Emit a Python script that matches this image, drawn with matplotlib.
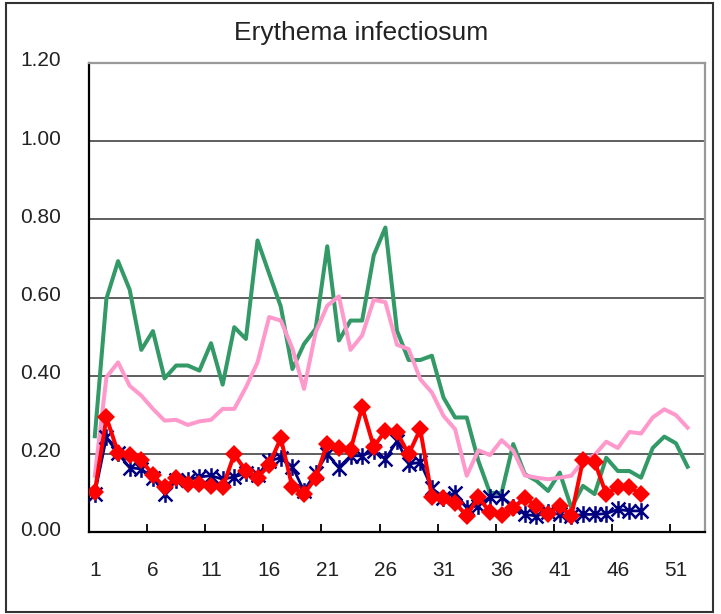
import matplotlib
matplotlib.use("Agg")
import matplotlib.pyplot as plt
import matplotlib.transforms as mtransforms
from matplotlib.path import Path
from matplotlib.patches import Rectangle

plt.rcParams['font.family'] = ['Liberation Sans', 'DejaVu Sans']

title = "Erythema infectiosum"
n_weeks = 53
tick_labels = ["1", "6", "11", "16", "21", "26", "31", "36", "41", "46", "51"]
y_ticks = [0.0, 0.2, 0.4, 0.6, 0.8, 1.0, 1.2]

green_vals = [0.245, 0.597, 0.693, 0.620, 0.466, 0.514, 0.393, 0.426, 0.426, 0.413,
              0.483, 0.377, 0.524, 0.494, 0.746, 0.661, 0.577, 0.417, 0.481, 0.520,
              0.731, 0.490, 0.541, 0.541, 0.708, 0.779, 0.515, 0.440, 0.440, 0.451,
              0.344, 0.293, 0.293, 0.182, 0.100, 0.100, 0.225, 0.148, 0.131, 0.105,
              0.152, 0.062, 0.118, 0.097, 0.190, 0.156, 0.156, 0.139, 0.215, 0.244,
              0.227, 0.167]
pink_vals = [0.144, 0.396, 0.434, 0.374, 0.349, 0.315, 0.285, 0.287, 0.274, 0.283,
             0.287, 0.315, 0.315, 0.370, 0.434, 0.550, 0.541, 0.470, 0.366, 0.511,
             0.579, 0.603, 0.466, 0.503, 0.594, 0.588, 0.479, 0.468, 0.391, 0.357,
             0.297, 0.263, 0.144, 0.209, 0.197, 0.235, 0.208, 0.145, 0.139, 0.135,
             0.139, 0.144, 0.182, 0.197, 0.231, 0.215, 0.256, 0.252, 0.293, 0.314,
             0.299, 0.267]
red_vals = [0.103, 0.293, 0.203, 0.197, 0.184, 0.146, 0.114, 0.138, 0.124, 0.124,
            0.118, 0.114, 0.199, 0.156, 0.139, 0.172, 0.240, 0.114, 0.098, 0.138,
            0.226, 0.215, 0.209, 0.320, 0.218, 0.259, 0.255, 0.199, 0.263, 0.090,
            0.088, 0.075, 0.041, 0.090, 0.050, 0.044, 0.062, 0.086, 0.067, 0.045,
            0.067, 0.041, 0.184, 0.180, 0.097, 0.115, 0.114, 0.098]
navy_vals = [0.098, 0.242, 0.201, 0.165, 0.161, 0.139, 0.097, 0.133, 0.133, 0.141,
             0.144, 0.135, 0.141, 0.150, 0.145, 0.182, 0.190, 0.167, 0.105, 0.152,
             0.199, 0.165, 0.195, 0.195, 0.208, 0.186, 0.233, 0.174, 0.178, 0.112,
             0.088, 0.100, 0.062, 0.067, 0.090, 0.090, 0.065, 0.045, 0.041, 0.050,
             0.045, 0.041, 0.045, 0.045, 0.047, 0.058, 0.054, 0.054]

W, H = 721, 614
fig = plt.figure(figsize=(W / 100, H / 100), dpi=100)
ax = fig.add_axes([89 / W, 1 - 532 / H, (705 - 89) / W, (532 - 63) / H])

def weeks(vals):
    return list(range(1, len(vals) + 1))

star = Path([(-1, -1), (1, 1), (-1, 1), (1, -1), (0, -1.2), (0, 1.2)],
            [Path.MOVETO, Path.LINETO, Path.MOVETO, Path.LINETO, Path.MOVETO, Path.LINETO])

ax.plot(weeks(green_vals), green_vals, color='#339966', lw=2.9, zorder=3)
ax.plot(weeks(pink_vals), pink_vals, color='#FF99CC', lw=2.9, zorder=4)
ax.plot(weeks(navy_vals), navy_vals, color='#000080', lw=2.0, marker=star,
        markersize=12, markeredgewidth=1.8, zorder=5)
ax.plot(weeks(red_vals), red_vals, color='#FF0000', lw=2.9, marker='D',
        markersize=9.5, markeredgewidth=0, zorder=6)

ax.set_xlim(0.5, n_weeks + 0.5)
ax.set_ylim(0, 1.2)
ax.set_xticks(range(1, n_weeks + 1, 5))
ax.set_xticklabels(tick_labels)
ax.set_xticks([k + 0.5 for k in range(5, 51, 5)], minor=True)
ax.tick_params(axis='x', which='major', length=0, pad=21, labelsize=15, colors='#222222')
ax.tick_params(axis='x', which='minor', direction='in', length=6, width=1.3, color='black')
ax.set_yticks(y_ticks)
ax.set_yticklabels([f"{v:.2f}" for v in y_ticks])
ax.tick_params(axis='y', length=0, pad=20, labelsize=15, colors='#222222')
offset = mtransforms.ScaledTranslation(0, 4 / 100, fig.dpi_scale_trans)
for lab in ax.get_yticklabels():
    lab.set_transform(lab.get_transform() + offset)

ax.grid(axis='y', color='#333333', lw=1.1)
ax.set_axisbelow(True)
for side in ['left', 'bottom']:
    ax.spines[side].set_color('black')
    ax.spines[side].set_linewidth(1.6)
for side in ['top', 'right']:
    ax.spines[side].set_color('#999999')
    ax.spines[side].set_linewidth(1.6)

fig.text(361 / W, 1 - 33 / H, title, ha='center', va='center', fontsize=19, color='#222222')
fig.patches.append(Rectangle((6 / W, 1 - 612 / H), (713 - 6) / W, (612 - 3) / H,
                             transform=fig.transFigure, fill=False,
                             edgecolor='#333333', lw=1.5))

fig.savefig("out.png", dpi=100)
